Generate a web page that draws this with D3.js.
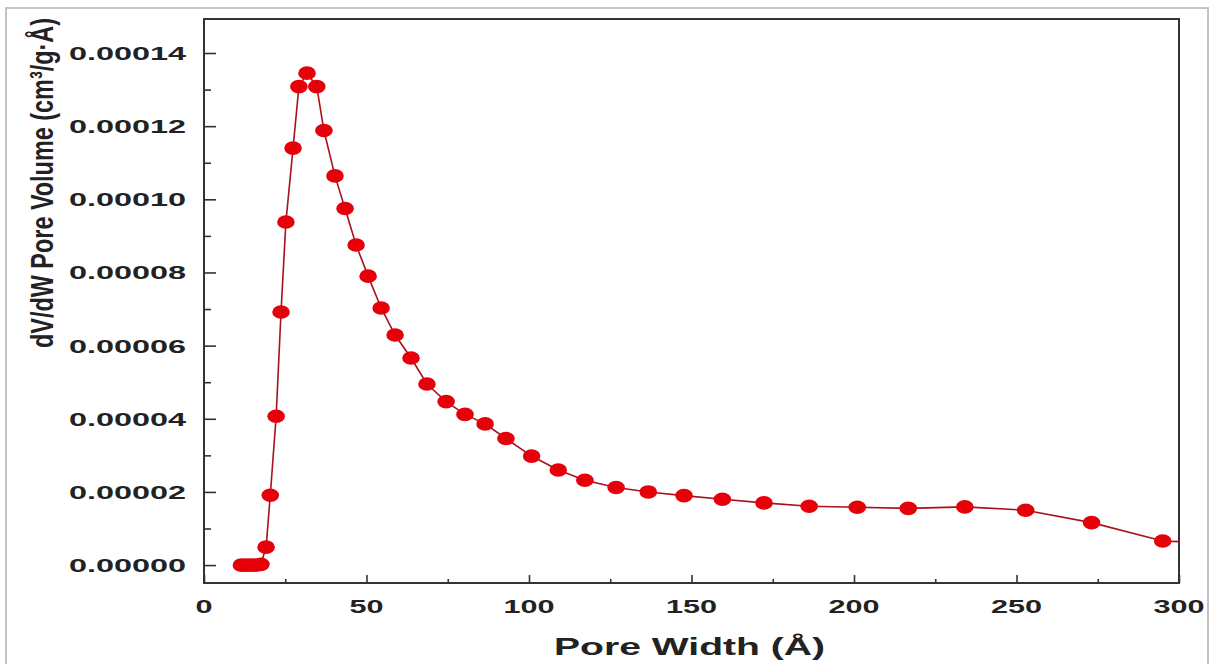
<!DOCTYPE html>
<html>
<head>
<meta charset="utf-8">
<script src="https://cdn.jsdelivr.net/npm/d3@7"></script>
<style>
  body { margin: 0; background: #fff; }
  svg { display: block; }
  text { font-family: "Liberation Sans", Arial, sans-serif; font-weight: bold; fill: #222; }
</style>
</head>
<body>
<div id="chart"></div>
<script>
// pore width (Å) and dV/dW pore volume (cm³/g·Å)
const poreWidth = [11.5, 13.0, 14.4, 15.9, 17.5, 19.1, 20.4, 22.2, 23.7, 25.2,
  27.4, 29.2, 31.7, 34.7, 36.9, 40.3, 43.4, 46.8, 50.5, 54.5,
  58.8, 63.7, 68.6, 74.5, 80.3, 86.5, 92.9, 100.8, 109.0, 117.2,
  126.8, 136.7, 147.7, 159.5, 172.3, 186.2, 201.0, 216.7, 234.1, 252.8,
  273.1, 295.0, 320.0]
const poreVolume = [0.0000000, 0.0000000, 0.0000000, 0.0000000, 0.0000002, 0.0000049, 0.0000191, 0.0000407, 0.0000692, 0.0000938,
  0.0001140, 0.0001308, 0.0001345, 0.0001308, 0.0001188, 0.0001064, 0.0000975, 0.0000875, 0.0000790, 0.0000703,
  0.0000629, 0.0000566, 0.0000495, 0.0000447, 0.0000412, 0.0000386, 0.0000346, 0.0000298, 0.0000260, 0.0000232,
  0.0000212, 0.0000200, 0.0000190, 0.0000180, 0.0000170, 0.0000161, 0.0000158, 0.0000155, 0.0000159, 0.0000150,
  0.0000116, 0.0000066, 0.0000056]

const xTicks = [0, 50, 100, 150, 200, 250, 300]
const xMinorTicks = [25, 75, 125, 175, 225, 275]
const yTicks = [0, 0.00002, 0.00004, 0.00006, 0.00008, 0.00010, 0.00012, 0.00014]
const yMinorTicks = [0.00001, 0.00003, 0.00005, 0.00007, 0.00009, 0.00011, 0.00013]

function drawChart() {
  const dataset = poreWidth.map((w, i) => ({ w: w, v: poreVolume[i] }))
  const xAccessor = d => d.w
  const yAccessor = d => d.v

  let dimensions = {
    width: 1211,
    height: 664,
    margin: { top: 19, right: 32, bottom: 81, left: 204 },
  }
  dimensions.boundedWidth = dimensions.width - dimensions.margin.left - dimensions.margin.right
  dimensions.boundedHeight = dimensions.height - dimensions.margin.top - dimensions.margin.bottom

  const wrapper = d3.select("#chart")
    .append("svg")
      .attr("width", dimensions.width)
      .attr("height", dimensions.height)

  // light outer border of the image
  wrapper.append("rect")
    .attr("x", 6).attr("y", 8)
    .attr("width", 1202).attr("height", 700)
    .attr("fill", "none")
    .attr("stroke", "#c4c4c4")
    .attr("stroke-width", 2)

  const bounds = wrapper.append("g")
    .attr("transform", `translate(${dimensions.margin.left},${dimensions.margin.top})`)

  const xScale = d3.scaleLinear()
    .domain([0, 300])
    .range([0, dimensions.boundedWidth])

  const yScale = d3.scaleLinear()
    .domain([-0.0000049, 0.0001493])
    .range([dimensions.boundedHeight, 0])

  bounds.append("clipPath").attr("id", "plot-clip")
    .append("rect")
      .attr("width", dimensions.boundedWidth)
      .attr("height", dimensions.boundedHeight)

  // ticks (pointing inward)
  bounds.append("g")
    .attr("transform", `translate(0,${dimensions.boundedHeight})`)
    .call(d3.axisBottom(xScale).tickValues(xTicks).tickSize(-8).tickFormat(""))
  bounds.append("g")
    .attr("transform", `translate(0,${dimensions.boundedHeight})`)
    .call(d3.axisBottom(xScale).tickValues(xMinorTicks).tickSize(-4).tickFormat(""))
  bounds.append("g")
    .call(d3.axisLeft(yScale).tickValues(yTicks).tickSize(-12).tickFormat(""))
  bounds.append("g")
    .call(d3.axisLeft(yScale).tickValues(yMinorTicks).tickSize(-7).tickFormat(""))

  bounds.selectAll(".domain").remove()
  bounds.selectAll(".tick line").attr("stroke", "#333").attr("stroke-width", 1.6)

  // frame
  bounds.append("rect")
    .attr("width", dimensions.boundedWidth)
    .attr("height", dimensions.boundedHeight)
    .attr("fill", "none")
    .attr("stroke", "#333")
    .attr("stroke-width", 2)

  // tick labels (wide, stretched look)
  bounds.selectAll(".x-label")
    .data(xTicks)
    .enter().append("text")
      .attr("transform", d => `translate(${xScale(d)},${dimensions.boundedHeight + 30}) scale(1.7,1)`)
      .attr("text-anchor", "middle")
      .style("font-size", "18px")
      .text(d => d)

  bounds.selectAll(".y-label")
    .data(yTicks)
    .enter().append("text")
      .attr("transform", d => `translate(-18,${yScale(d) + 7}) scale(1.8,1)`)
      .attr("text-anchor", "end")
      .style("font-size", "18px")
      .text(d => d.toFixed(5))

  // axis titles
  wrapper.append("text")
    .attr("transform", `translate(${dimensions.margin.left + xScale(150) - 2},655) scale(1.7,1)`)
    .attr("text-anchor", "middle")
    .style("font-size", "23px")
    .text("Pore Width (Å)")

  wrapper.append("text")
    .attr("transform", "translate(53,183) scale(1.4,1) rotate(-90)")
    .attr("text-anchor", "middle")
    .attr("textLength", 330)
    .attr("lengthAdjust", "spacingAndGlyphs")
    .style("font-size", "23px")
    .text("dV/dW Pore Volume (cm³/g·Å)")

  // data
  const plot = bounds.append("g").attr("clip-path", "url(#plot-clip)")

  const lineGenerator = d3.line()
    .x(d => xScale(xAccessor(d)))
    .y(d => yScale(yAccessor(d)))

  plot.append("path")
    .datum(dataset)
    .attr("d", lineGenerator)
    .attr("fill", "none")
    .attr("stroke", "#a8121a")
    .attr("stroke-width", 1.6)

  plot.selectAll("ellipse")
    .data(dataset)
    .enter().append("ellipse")
      .attr("cx", d => xScale(xAccessor(d)))
      .attr("cy", d => yScale(yAccessor(d)))
      .attr("rx", 8.8)
      .attr("ry", 6.8)
      .attr("fill", "#e6000a")
}
drawChart()
</script>
</body>
</html>
